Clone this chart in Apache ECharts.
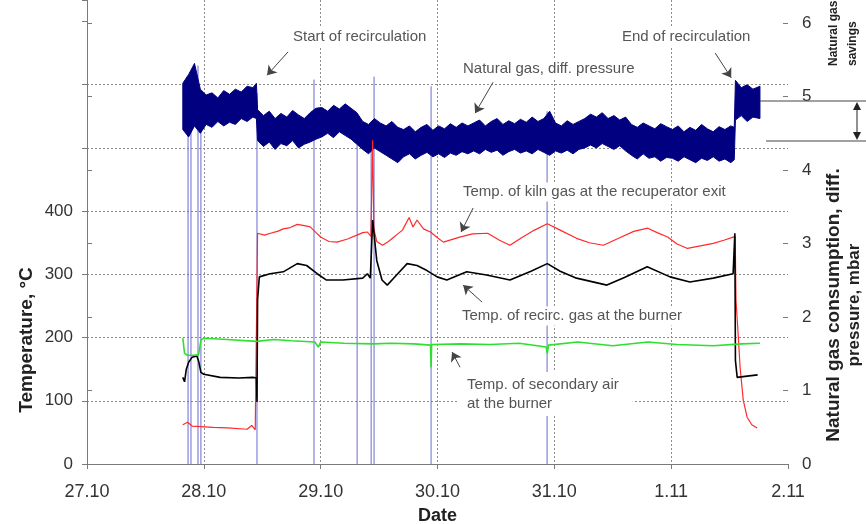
<!DOCTYPE html>
<html>
<head>
<meta charset="utf-8">
<script src="https://cdn.jsdelivr.net/npm/echarts@6/dist/echarts.min.js"></script>
<style>
  html, body { margin: 0; padding: 0; background: #fff; }
  #chart { width: 866px; height: 524px; }
</style>
</head>
<body>
<div id="chart"></div>
<script>
// x axis is days counted from 27.10
var dateLabels = ['27.10', '28.10', '29.10', '30.10', '31.10', '1.11', '2.11'];

// natural gas diff. pressure (mbar) - noisy band, read as low / high envelope
var bandDays = [0.82, 0.87, 0.92, 0.97, 1.02, 1.07, 1.12, 1.17, 1.22, 1.27, 1.32, 1.37, 1.42, 1.45,
  1.46, 1.51, 1.56, 1.61, 1.66, 1.71, 1.76, 1.81, 1.86, 1.91, 1.96,
  2.01, 2.06, 2.11, 2.16, 2.21, 2.26, 2.31,
  2.36, 2.41, 2.46, 2.51, 2.56, 2.61, 2.66,
  2.71, 2.76, 2.81, 2.86, 2.91, 2.96, 3.01, 3.06, 3.11, 3.16, 3.21, 3.26,
  3.31, 3.36, 3.41, 3.46, 3.51, 3.56, 3.61, 3.66, 3.71, 3.76, 3.81, 3.86, 3.91, 3.96, 4.01, 4.06, 4.11, 4.16, 4.21, 4.26,
  4.31, 4.36, 4.41, 4.46, 4.51, 4.56, 4.61,
  4.66, 4.71, 4.76, 4.81, 4.86, 4.91, 4.96,
  5.01, 5.06, 5.11, 5.16, 5.21, 5.26, 5.31, 5.36, 5.41, 5.46, 5.51, 5.54,
  5.55, 5.60, 5.65, 5.70, 5.76];
var bandHigh = [5.18, 5.30, 5.45, 5.10, 5.02, 5.05, 4.98, 5.08, 5.03, 5.10, 5.06, 5.14, 5.12, 5.18,
  4.82, 4.74, 4.80, 4.70, 4.77, 4.72, 4.81, 4.75, 4.70, 4.78, 4.84,
  4.85, 4.80, 4.88, 4.83, 4.90, 4.84, 4.78,
  4.66, 4.62, 4.70, 4.64, 4.60, 4.66, 4.58,
  4.55, 4.60, 4.52, 4.58, 4.62, 4.54, 4.60, 4.56, 4.63, 4.58, 4.64, 4.60,
  4.64, 4.68, 4.60, 4.66, 4.70, 4.62, 4.67, 4.63, 4.69, 4.65, 4.72, 4.66, 4.70, 4.80, 4.64, 4.60, 4.67, 4.62, 4.66, 4.70,
  4.76, 4.72, 4.78, 4.70, 4.74, 4.68, 4.72,
  4.62, 4.58, 4.64, 4.60, 4.56, 4.63, 4.59,
  4.55, 4.60, 4.52, 4.58, 4.54, 4.62, 4.56, 4.52, 4.59, 4.55, 4.60, 4.58,
  5.22, 5.12, 5.16, 5.10, 5.14];
var bandLow = [4.55, 4.45, 4.60, 4.50, 4.62, 4.58, 4.66, 4.60, 4.65, 4.62, 4.70, 4.66, 4.72, 4.70,
  4.40, 4.32, 4.38, 4.28, 4.36, 4.33, 4.40, 4.30, 4.35, 4.38, 4.42,
  4.45, 4.50, 4.44, 4.52, 4.47, 4.42, 4.35,
  4.28, 4.22, 4.30, 4.25, 4.20, 4.15, 4.10,
  4.18, 4.22, 4.15, 4.20, 4.24, 4.18, 4.22, 4.17, 4.23, 4.20, 4.25, 4.22,
  4.26, 4.22, 4.28, 4.24, 4.27, 4.20, 4.25, 4.28, 4.23, 4.26, 4.22, 4.28, 4.24, 4.20, 4.26, 4.23, 4.27, 4.22, 4.28, 4.30,
  4.34, 4.30, 4.36, 4.32, 4.28, 4.33, 4.26,
  4.20, 4.15, 4.22, 4.16, 4.18, 4.12, 4.17,
  4.16, 4.12, 4.18, 4.14, 4.10, 4.16, 4.13, 4.18, 4.12, 4.15, 4.10, 4.14,
  4.68, 4.74, 4.66, 4.72, 4.70];

// short drop-outs of the pressure signal down to 0
var spikeDays = [0.865, 0.89, 0.95, 0.975, 1.455, 1.943, 2.312, 2.432, 2.457, 2.945, 3.938];
var spikeTops = [5.27, 5.0, 5.42, 5.0, 5.05, 5.23, 4.35, 4.3, 5.27, 5.14, 4.8];

// temperatures, °C
var redDays = [0.82, 0.86, 0.9, 1.08, 1.2, 1.37, 1.41, 1.44, 1.455, 1.46, 1.52, 1.57, 1.63, 1.68, 1.74, 1.80, 1.86, 1.91, 1.96, 2.0, 2.07, 2.14, 2.23, 2.31, 2.36, 2.40, 2.43, 2.445, 2.455, 2.48, 2.53, 2.58, 2.62, 2.66, 2.70, 2.757, 2.79, 2.825, 2.88, 2.94, 3.0, 3.05, 3.12, 3.19, 3.30, 3.43, 3.53, 3.62, 3.72, 3.83, 3.94, 4.05, 4.19, 4.30, 4.42, 4.55, 4.68, 4.80, 4.88, 4.97, 5.05, 5.14, 5.25, 5.36, 5.45, 5.53, 5.548, 5.555, 5.575, 5.59, 5.617, 5.65, 5.69, 5.736];
var redTemps = [62, 66, 60, 58, 57, 55, 61, 54, 54, 365, 362, 365, 368, 372, 374, 379, 377, 375, 366, 359, 352, 351, 356, 362, 366, 367, 360, 512, 372, 352, 346, 352, 358, 364, 370, 390, 375, 386, 372, 367, 358, 351, 355, 359, 364, 365, 354, 346, 358, 370, 380, 370, 357, 350, 346, 357, 368, 373, 366, 359, 348, 341, 345, 349, 354, 359, 360, 259, 200, 153, 101, 74, 62, 57];

var blackDays = [0.82, 0.835, 0.85, 0.87, 0.9, 0.94, 0.955, 0.975, 1.0, 1.14, 1.30, 1.42, 1.45, 1.455, 1.46, 1.475, 1.567, 1.68, 1.80, 1.88, 1.97, 2.05, 2.19, 2.36, 2.40, 2.425, 2.445, 2.48, 2.525, 2.57, 2.65, 2.74, 2.825, 2.91, 2.997, 3.08, 3.25, 3.42, 3.62, 3.80, 3.94, 4.05, 4.19, 4.45, 4.60, 4.795, 4.99, 5.16, 5.36, 5.53, 5.545, 5.55, 5.565, 5.65, 5.74];
var blackTemps = [137, 130, 150, 161, 169, 171, 163, 145, 142, 137, 136, 137, 136, 98, 260, 296, 301, 304, 317, 314, 301, 291, 291, 294, 301, 294, 386, 322, 291, 283, 299, 317, 314, 306, 296, 291, 304, 299, 291, 305, 317, 305, 294, 283, 295, 312, 296, 288, 294, 301, 365, 164, 137, 139, 141];

var greenDays = [0.82, 0.835, 0.86, 0.92, 0.955, 0.975, 1.0, 1.2, 1.45, 1.6, 1.75, 1.95, 1.98, 2.0, 2.2, 2.45, 2.6, 2.8, 2.94, 2.945, 2.95, 3.2, 3.45, 3.7, 3.93, 3.94, 3.95, 4.2, 4.5, 4.8, 5.05, 5.36, 5.6, 5.76];
var greenTemps = [199, 175, 172, 172, 173, 196, 199, 197, 194, 197, 195, 193, 185, 193, 191, 190, 191, 190, 188, 153, 189, 190, 189, 191, 185, 175, 188, 193, 187, 193, 189, 187, 190, 191];

// annotation arrows in data units of the temperature axis: [dayFrom, tFrom, dayTo, tTo]
var arrows = [
  [1.721, 652, 1.541, 615],
  [5.377, 650, 5.514, 611],
  [3.476, 604, 3.322, 555],
  [3.305, 405, 3.202, 367],
  [3.382, 256, 3.219, 283],
  [3.193, 153, 3.125, 177]
];

function pairs(xs, ys) {
  return xs.map(function (x, i) { return [x, ys[i]]; });
}

var spikeData = [];
spikeDays.forEach(function (d, i) {
  spikeData.push([d, 0], [d, spikeTops[i]], [d, '-']);
});

var FONT = '"Liberation Sans", Arial, sans-serif';
var gridGray = '#8c8c8c';
var axisGray = '#7a7a7a';

var myChart = echarts.init(document.getElementById('chart'));

function note(text, x, y, extra) {
  return {
    type: 'text', x: x, y: y, z: 100,
    style: Object.assign({
      text: text, font: '15px ' + FONT, fill: '#555',
      verticalAlign: 'middle', backgroundColor: '#fff', padding: [2, 3]
    }, extra || {})
  };
}

// band between low and high envelope, drawn through the axis scales
function renderBand(params, api) {
  if (params.dataIndex !== 0) return null;
  var pts = [];
  for (var i = 0; i < bandDays.length; i++) pts.push(api.coord([bandDays[i], bandHigh[i]]));
  for (var j = bandDays.length - 1; j >= 0; j--) pts.push(api.coord([bandDays[j], bandLow[j]]));
  return {
    type: 'polygon',
    shape: { points: pts },
    style: { fill: '#000080', stroke: '#000080', lineWidth: 1 }
  };
}

var option = {
  animation: false,
  grid: [
    { left: 87, right: 78, top: 0, bottom: 60, containLabel: false, outerBoundsMode: 'none' },
    { left: 87, right: 78, top: 23, bottom: 60, containLabel: false, outerBoundsMode: 'none' }
  ],
  xAxis: [
    {
      gridIndex: 0, type: 'value', min: 0, max: 6, interval: 1,
      axisLine: { lineStyle: { color: axisGray } },
      axisTick: { length: 5, lineStyle: { color: axisGray } },
      axisLabel: {
        margin: 19, color: '#333', fontSize: 18, fontFamily: FONT,
        formatter: function (v) { return dateLabels[v] || ''; }
      },
      splitLine: {
        show: true,
        lineStyle: { type: [2, 2], color: ['transparent', gridGray, gridGray, gridGray, gridGray, gridGray, 'transparent'] }
      },
      name: 'Date', nameLocation: 'middle', nameGap: 43,
      nameTextStyle: { fontWeight: 'bold', fontSize: 18, color: '#222', fontFamily: FONT }
    },
    { gridIndex: 1, type: 'value', min: 0, max: 6, show: false }
  ],
  yAxis: [
    {
      gridIndex: 0, type: 'value', min: 0, max: 734, interval: 100,
      axisLine: { show: true, lineStyle: { color: axisGray } },
      axisTick: { show: true, length: 5, lineStyle: { color: axisGray } },
      axisLabel: {
        margin: 14, color: '#333', fontSize: 17, fontFamily: FONT,
        formatter: function (v) { return v <= 400 ? String(v) : ''; }
      },
      splitLine: {
        show: true,
        lineStyle: {
          type: [2, 2],
          color: ['transparent', gridGray, gridGray, gridGray, gridGray, gridGray, gridGray, 'transparent', 'transparent']
        }
      }
    },
    {
      gridIndex: 1, type: 'value', position: 'right', min: 0, max: 6, interval: 1,
      axisLine: { show: true, lineStyle: { color: axisGray } },
      axisTick: { show: true, length: 5, lineStyle: { color: axisGray } },
      axisLabel: { margin: 14, color: '#333', fontSize: 17, fontFamily: FONT },
      splitLine: { show: false }
    },
    {
      gridIndex: 1, type: 'value', position: 'right', min: 0, max: 6, interval: 1,
      axisLine: { show: false },
      axisTick: { show: true, inside: true, length: 5, lineStyle: { color: axisGray } },
      axisLabel: { show: false },
      splitLine: { show: false }
    }
  ],
  series: [
    {
      name: 'drop-outs', type: 'line', xAxisIndex: 1, yAxisIndex: 1, z: 1,
      symbol: 'none', connectNulls: false, silent: true,
      data: spikeData,
      lineStyle: { color: '#6a6ad2', width: 1 }
    },
    {
      name: 'Natural gas, diff. pressure', type: 'custom', xAxisIndex: 1, yAxisIndex: 1, z: 2,
      silent: true, clip: false,
      data: pairs(bandDays, bandHigh),
      encode: { x: 0, y: 1 },
      renderItem: renderBand
    },
    {
      name: 'Temp. of kiln gas at the recuperator exit', type: 'line', z: 3,
      symbol: 'none', silent: true,
      data: pairs(redDays, redTemps),
      lineStyle: { color: '#ff2a2a', width: 1.2 },
      markLine: {
        silent: true, symbol: ['none', 'arrow'], symbolSize: 9,
        label: { show: false }, emphasis: { disabled: true },
        lineStyle: { color: '#444', width: 1, type: 'solid' },
        data: arrows.map(function (a) { return [{ coord: [a[0], a[1]] }, { coord: [a[2], a[3]] }]; })
      }
    },
    {
      name: 'Temp. of recirc. gas at the burner', type: 'line', z: 3,
      symbol: 'none', silent: true,
      data: pairs(blackDays, blackTemps),
      lineStyle: { color: '#000', width: 1.6 }
    },
    {
      name: 'Temp. of secondary air at the burner', type: 'line', z: 3,
      symbol: 'none', silent: true,
      data: pairs(greenDays, greenTemps),
      lineStyle: { color: '#2ee02e', width: 1.6 }
    }
  ],
  graphic: [
    note('Start of recirculation', 290, 37),
    note('End of recirculation', 619, 37),
    note('Natural gas, diff. pressure', 460, 69),
    note('Temp. of kiln gas at the recuperator exit', 460, 192),
    note('Temp. of recirc. gas at the burner', 459, 316),
    note('Temp. of secondary air\nat the burner', 457, 394, { lineHeight: 19, padding: [3, 14, 3, 10] }),
    {
      type: 'text', x: 27, y: 340, rotation: Math.PI / 2, z: 100,
      style: { text: 'Temperature, °C', font: 'bold 19px ' + FONT, fill: '#222', align: 'center', verticalAlign: 'middle' }
    },
    {
      type: 'text', x: 844, y: 305, rotation: Math.PI / 2, z: 100,
      style: {
        text: '{a|Natural gas consumption, diff.}\n{b|pressure, mbar}',
        fill: '#222', align: 'center', verticalAlign: 'middle',
        rich: {
          a: { font: 'bold 19px ' + FONT, fill: '#222', lineHeight: 20 },
          b: { font: 'bold 17px ' + FONT, fill: '#222', lineHeight: 20 }
        }
      }
    },
    {
      type: 'text', x: 843, y: 66, rotation: Math.PI / 2, z: 100,
      style: {
        text: 'Natural gas\nsavings', font: 'bold 12px ' + FONT, fill: '#222',
        align: 'left', verticalAlign: 'middle', lineHeight: 19
      }
    },
    { type: 'line', z: 100, shape: { x1: 760, y1: 101, x2: 866, y2: 101 }, style: { stroke: '#444', lineWidth: 1 } },
    { type: 'line', z: 100, shape: { x1: 766, y1: 141, x2: 866, y2: 141 }, style: { stroke: '#444', lineWidth: 1 } },
    { type: 'line', z: 100, shape: { x1: 857, y1: 106, x2: 857, y2: 136 }, style: { stroke: '#222', lineWidth: 1 } },
    { type: 'polygon', z: 100, shape: { points: [[853, 110], [861, 110], [857, 102]] }, style: { fill: '#222' } },
    { type: 'polygon', z: 100, shape: { points: [[853, 132], [861, 132], [857, 140]] }, style: { fill: '#222' } }
  ]
};

myChart.setOption(option);
</script>
</body>
</html>
